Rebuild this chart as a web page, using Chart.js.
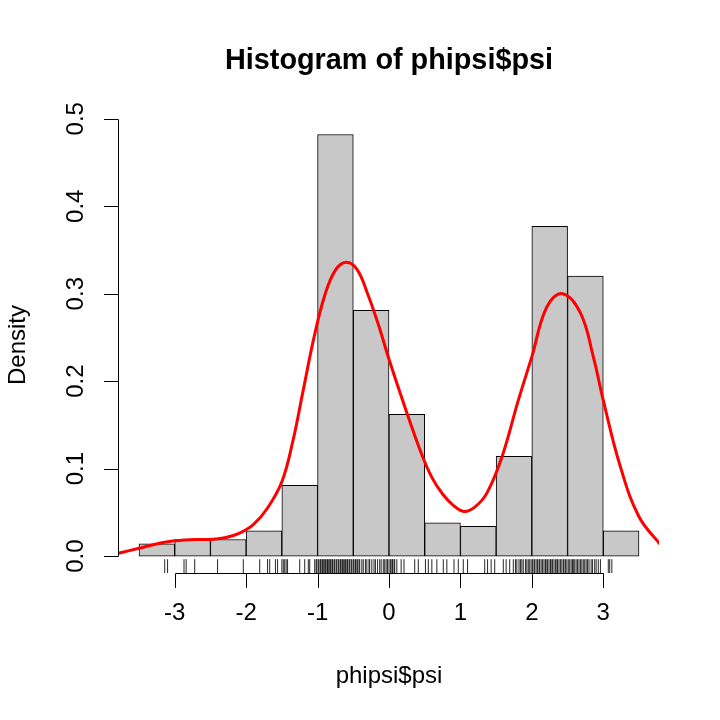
<!DOCTYPE html>
<html>
<head>
<meta charset="utf-8">
<script src="https://cdn.jsdelivr.net/npm/chart.js@4/dist/chart.umd.min.js"></script>
<style>
body { margin: 0; background: #fff; }
</style>
</head>
<body>
<canvas id="histChart" width="720" height="720"></canvas>
<script>
// histogram of phipsi$psi, with density line and rug
let breaks = [-3.5, -3, -2.5, -2, -1.5, -1, -0.5, 0, 0.5, 1, 1.5, 2, 2.5, 3, 3.5];
let density = [0.014, 0.019, 0.019, 0.029, 0.081, 0.482, 0.281, 0.162, 0.038, 0.034, 0.114, 0.377, 0.320, 0.029];

let curveX = [-3.8, -3.5, -3.2, -3.0, -2.7, -2.5, -2.3, -2.1, -1.9, -1.7, -1.5, -1.35, -1.2, -1.05, -0.9, -0.75, -0.6,
  -0.45, -0.3, -0.15, 0.0, 0.15, 0.3, 0.45, 0.6, 0.75, 0.9, 1.05, 1.2, 1.37, 1.58, 1.81, 2.0, 2.21, 2.43, 2.68, 2.86, 3.0,
  3.24, 3.5, 3.8];
let curveY = [0.003, 0.009, 0.015, 0.0175, 0.019, 0.019, 0.021, 0.026, 0.036, 0.055, 0.085, 0.13, 0.19, 0.25, 0.298, 0.327, 0.336,
  0.328, 0.30, 0.265, 0.225, 0.188, 0.152, 0.118, 0.09, 0.071, 0.058, 0.051, 0.056, 0.072, 0.113, 0.178, 0.228, 0.285, 0.30, 0.278, 0.228, 0.178,
  0.102, 0.045, 0.013];

let rugX = [-3.14, -3.10, -2.87, -2.84, -2.72, -2.40, -2.04, -1.81, -1.70, -1.67, -1.59, -1.56, -1.50, -1.48, -1.46, -1.44, -1.42,
  -1.25, -1.18, -1.13, -1.11,
  -1.04, -1.02, -1.01, -0.99, -0.98, -0.96, -0.95, -0.93, -0.92, -0.90, -0.89, -0.87, -0.86, -0.85, -0.83, -0.82, -0.80, -0.79,
  -0.77, -0.76, -0.74, -0.73, -0.71, -0.70, -0.68, -0.67, -0.65, -0.64, -0.62, -0.61, -0.59, -0.58, -0.56, -0.55, -0.53, -0.52,
  -0.50, -0.49, -0.47, -0.46, -0.44, -0.42, -0.41, -0.38, -0.36, -0.33, -0.31, -0.28, -0.27, -0.24, -0.21, -0.19, -0.16, -0.13,
  -0.11, -0.08, -0.06, -0.04, -0.02, 0.0, 0.02, 0.04, 0.05, 0.07, 0.08,
  0.11, 0.17, 0.21, 0.36, 0.41, 0.51, 0.55, 0.60, 0.67, 0.76, 0.81, 0.91, 0.97, 1.04, 1.10,
  1.34, 1.38, 1.43, 1.48, 1.60, 1.64, 1.69, 1.74, 1.77, 1.79, 1.82, 1.84, 1.86, 1.88, 1.91, 1.93, 1.95, 1.97, 1.99,
  2.01, 2.03, 2.04, 2.06, 2.08, 2.10, 2.11, 2.13, 2.15, 2.17, 2.19, 2.20, 2.22, 2.24, 2.26, 2.27, 2.29, 2.31, 2.33, 2.35,
  2.36, 2.38, 2.40, 2.42, 2.44, 2.45, 2.47, 2.49, 2.51, 2.53, 2.55, 2.57, 2.58, 2.60, 2.62, 2.64, 2.66, 2.68, 2.70, 2.72,
  2.74, 2.76, 2.78, 2.80, 2.83, 2.85, 2.88, 2.90, 2.93, 2.96,
  3.07, 3.09, 3.12];

let xTicks = [-3, -2, -1, 0, 1, 2, 3];
let yTicks = [0, 0.1, 0.2, 0.3, 0.4, 0.5];
let yTickLabels = ['0.0', '0.1', '0.2', '0.3', '0.4', '0.5'];

let xMin = -3.78, xMax = 3.78;
let yMin = -0.0193, yMax = 0.502;
let rugY = yMin + 0.0078;

let fontName = '"Liberation Sans", Arial, Helvetica, sans-serif';

let barData = [];
for (let i = 0; i < density.length; i++) {
  barData.push({x: (breaks[i] + breaks[i + 1]) / 2, y: density[i]});
}
let lineData = curveX.map((v, i) => ({x: v, y: curveY[i]}));
let rugData = rugX.map(v => ({x: v, y: rugY}));

// R style axes and titles, drawn from the chart scales
let rAxes = {
  id: 'rAxes',
  afterDraw(chart) {
    let ctx = chart.ctx;
    let xs = chart.scales.x, ys = chart.scales.y, area = chart.chartArea;
    let tick = 14.4;
    ctx.save();
    ctx.strokeStyle = '#000';
    ctx.fillStyle = '#000';
    ctx.lineWidth = 1;

    // x axis
    let yb = Math.round(area.bottom) + 0.5;
    ctx.beginPath();
    ctx.moveTo(Math.round(xs.getPixelForValue(xTicks[0])) + 0.5, yb);
    ctx.lineTo(Math.round(xs.getPixelForValue(xTicks[xTicks.length - 1])) + 0.5, yb);
    xTicks.forEach(v => {
      let px = Math.round(xs.getPixelForValue(v)) + 0.5;
      ctx.moveTo(px, yb);
      ctx.lineTo(px, yb + tick);
    });
    ctx.stroke();
    ctx.font = '24px ' + fontName;
    ctx.textAlign = 'center';
    ctx.textBaseline = 'middle';
    xTicks.forEach(v => ctx.fillText(String(v), xs.getPixelForValue(v), area.bottom + 40));

    // y axis
    let xl = Math.round(area.left) - 0.5;
    ctx.beginPath();
    ctx.moveTo(xl, Math.round(ys.getPixelForValue(yTicks[0])) + 0.5);
    ctx.lineTo(xl, Math.round(ys.getPixelForValue(yTicks[yTicks.length - 1])) + 0.5);
    yTicks.forEach(v => {
      let py = Math.round(ys.getPixelForValue(v)) + 0.5;
      ctx.moveTo(xl, py);
      ctx.lineTo(xl - tick, py);
    });
    ctx.stroke();
    yTicks.forEach((v, i) => {
      ctx.save();
      ctx.translate(area.left - 43, ys.getPixelForValue(v));
      ctx.rotate(-Math.PI / 2);
      ctx.fillText(yTickLabels[i], 0, 0);
      ctx.restore();
    });

    // axis titles
    let midX = (area.left + area.right) / 2;
    let midY = (area.top + area.bottom) / 2;
    ctx.fillText('phipsi$psi', midX, area.bottom + 103);
    ctx.save();
    ctx.translate(area.left - 101, midY);
    ctx.rotate(-Math.PI / 2);
    ctx.fillText('Density', 0, 0);
    ctx.restore();

    // main title
    ctx.font = 'bold 28.8px ' + fontName;
    ctx.fillText('Histogram of phipsi$psi', midX, area.top - 56);
    ctx.restore();
  }
};

let histChart = document.getElementById('histChart');
let config = {
  type: 'bar',
  data: {
    datasets: [
      {
        type: 'scatter',
        data: rugData,
        pointStyle: 'line',
        rotation: 90,
        radius: 7,
        borderColor: 'rgba(0,0,0,0.85)',
        borderWidth: 1,
        backgroundColor: 'rgba(0,0,0,0)',
        order: 3
      },
      {
        type: 'bar',
        data: barData,
        backgroundColor: '#c8c8c8',
        borderColor: '#000',
        borderWidth: 1,
        borderSkipped: false,
        barPercentage: 1,
        categoryPercentage: 1,
        order: 2
      },
      {
        type: 'line',
        data: lineData,
        borderColor: '#ff0000',
        borderWidth: 3,
        pointRadius: 0,
        fill: false,
        tension: 0.4,
        order: 1
      }
    ]
  },
  options: {
    responsive: false,
    animation: false,
    devicePixelRatio: 1,
    events: [],
    layout: {padding: {left: 119, right: 61, top: 117, bottom: 147}},
    plugins: {
      legend: {display: false},
      title: {display: false},
      tooltip: {enabled: false}
    },
    scales: {
      x: {type: 'linear', min: xMin, max: xMax, offset: false, display: false},
      y: {type: 'linear', min: yMin, max: yMax, display: false}
    }
  },
  plugins: [rAxes]
};
let dataChart = new Chart(histChart, config);
</script>
</body>
</html>
